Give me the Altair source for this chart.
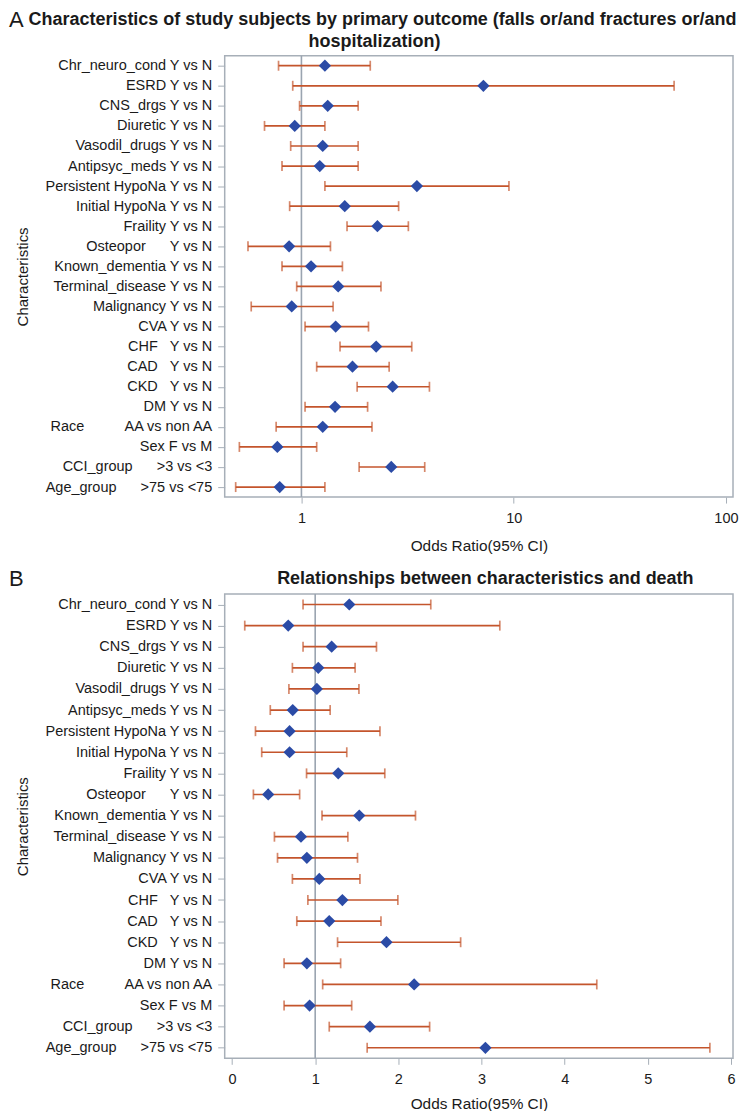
import altair as alt
import pandas as pd

NB = "\u00a0"

labels = [
    "Chr_neuro_cond Y vs N",
    "ESRD Y vs N",
    "CNS_drgs Y vs N",
    "Diuretic Y vs N",
    "Vasodil_drugs Y vs N",
    "Antipsyc_meds Y vs N",
    "Persistent HypoNa Y vs N",
    "Initial HypoNa Y vs N",
    "Fraility Y vs N",
    "Osteopor" + NB * 6 + "Y vs N",
    "Known_dementia Y vs N",
    "Terminal_disease Y vs N",
    "Malignancy Y vs N",
    "CVA Y vs N",
    "CHF" + NB * 3 + "Y vs N",
    "CAD" + NB * 3 + "Y vs N",
    "CKD" + NB * 3 + "Y vs N",
    "DM Y vs N",
    "Race" + NB * 10 + "AA vs non AA",
    "Sex F vs M",
    "CCI_group" + NB * 6 + ">3 vs <3",
    "Age_group" + NB * 6 + ">75 vs <75",
]

# Panel A: falls / fractures / hospitalization (log scale)
or_a = [1.29, 7.2, 1.33, 0.93, 1.26, 1.22, 3.50, 1.60, 2.28, 0.875, 1.11,
        1.49, 0.90, 1.45, 2.25, 1.74, 2.69, 1.44, 1.26, 0.77, 2.65, 0.79]
lo_a = [0.78, 0.91, 0.98, 0.67, 0.89, 0.81, 1.29, 0.88, 1.64, 0.56, 0.81,
        0.95, 0.58, 1.04, 1.52, 1.18, 1.83, 1.04, 0.76, 0.51, 1.87, 0.49]
hi_a = [2.11, 57.0, 1.85, 1.29, 1.85, 1.85, 9.5, 2.87, 3.19, 1.37, 1.56,
        2.37, 1.41, 2.07, 3.31, 2.59, 4.01, 2.05, 2.15, 1.18, 3.81, 1.29]

# Panel B: death (linear scale)
or_b = [1.41, 0.676, 1.198, 1.037, 1.02, 0.73, 0.692, 0.692, 1.277, 0.435, 1.53,
        0.829, 0.90, 1.049, 1.327, 1.169, 1.857, 0.90, 2.19, 0.933, 1.658, 3.047]
lo_b = [0.854, 0.153, 0.854, 0.726, 0.684, 0.46, 0.282, 0.357, 0.896, 0.257, 1.082,
        0.51, 0.547, 0.726, 0.912, 0.779, 1.269, 0.626, 1.09, 0.626, 1.169, 1.625]
hi_b = [2.39, 3.22, 1.737, 1.48, 1.526, 1.18, 1.779, 1.38, 1.837, 0.813, 2.206,
        1.393, 1.509, 1.538, 1.994, 1.791, 2.749, 1.306, 4.386, 1.439, 2.376, 5.746]

title_a = ["Characteristics of study subjects by primary outcome (falls or/and fractures or/and",
           "hospitalization)"]
title_b = "Relationships between characteristics and death"

ERR = "#C4552C"
DIA = "#2B4BA6"
FRAME = "#A7AFB8"
REF = "#9AA4B0"
INK = "#1a1a1a"
FONT = "Liberation Sans"
W = 509


def txt(s, x, y, size, weight="normal", align="center"):
    return alt.Chart(pd.DataFrame({"t": [s]})).mark_text(
        align=align, baseline="alphabetic", fontSize=size, fontWeight=weight,
        font=FONT, color=INK).encode(text="t:N", x=alt.value(x), y=alt.value(y))


def panel(orv, lov, hiv, xscale, xvalues, height, xtitle_pad, extras):
    df = pd.DataFrame({"label": labels, "or": orv, "lo": lov, "hi": hiv})
    yenc = alt.Y(
        "label:N", sort=labels,
        scale=alt.Scale(type="point", padding=0.5),
        axis=alt.Axis(title="Characteristics", labelFontSize=14.5,
                      labelColor=INK, labelLimit=300, tickColor=FRAME,
                      tickSize=7, tickWidth=1, labelPadding=6, domain=False,
                      grid=False, titleFontSize=15, titleFontWeight="normal",
                      titleColor=INK, titlePadding=14),
    )
    xaxis = alt.Axis(title="Odds Ratio(95% CI)", values=xvalues, format="d",
                     labelFontSize=14.5, labelColor=INK, tickColor=FRAME,
                     tickSize=6, labelPadding=8, domain=False, grid=False,
                     titleFontSize=15.4, titleFontWeight="normal",
                     titleColor=INK, titlePadding=xtitle_pad, labelFlush=False)
    base = alt.Chart(df)
    ref = alt.Chart(pd.DataFrame({"ref": [1.0]})).mark_rule(
        color=REF, strokeWidth=1.6).encode(
        x=alt.X("ref:Q", scale=xscale, axis=xaxis))
    bars = base.mark_rule(color=ERR, strokeWidth=1.7).encode(
        x=alt.X("lo:Q", scale=xscale, axis=xaxis), x2="hi:Q", y=yenc)
    cap_lo = base.mark_tick(color=ERR, orient="vertical", size=10,
                            thickness=1.7).encode(
        x=alt.X("lo:Q", scale=xscale), y=yenc)
    cap_hi = base.mark_tick(color=ERR, orient="vertical", size=10,
                            thickness=1.7).encode(
        x=alt.X("hi:Q", scale=xscale), y=yenc)
    pts = base.mark_point(shape="diamond", filled=True, color=DIA, size=150,
                          opacity=1).encode(
        x=alt.X("or:Q", scale=xscale), y=yenc)
    return alt.layer(ref, bars, cap_lo, cap_hi, pts, *extras).properties(
        width=W, height=height)


top = panel(or_a, lo_a, hi_a,
            alt.Scale(type="log", domain=[0.435, 108], nice=False),
            [1, 10, 100], 442, 14,
            [txt("A", -216, -29, 22, align="left"),
             txt(title_a[0], 158, -30.5, 18, "bold"),
             txt(title_a[1], 150, -8.5, 18, "bold")])
bottom = panel(or_b, lo_b, hi_b,
               alt.Scale(domain=[-0.088, 6.024], nice=False, zero=False),
               [0, 1, 2, 3, 4, 5, 6], 465, 11,
               [txt("B", -216, -8, 22, align="left"),
                txt(title_b, 261, -9.5, 18, "bold")])

chart = alt.vconcat(top, bottom, spacing=12).properties(
    padding={"left": 0, "top": -1, "right": 0, "bottom": -3}
).configure(font=FONT).configure_view(stroke=FRAME, strokeWidth=1.5)

chart.save("out.html", embed_options={"renderer": "svg", "actions": False})
